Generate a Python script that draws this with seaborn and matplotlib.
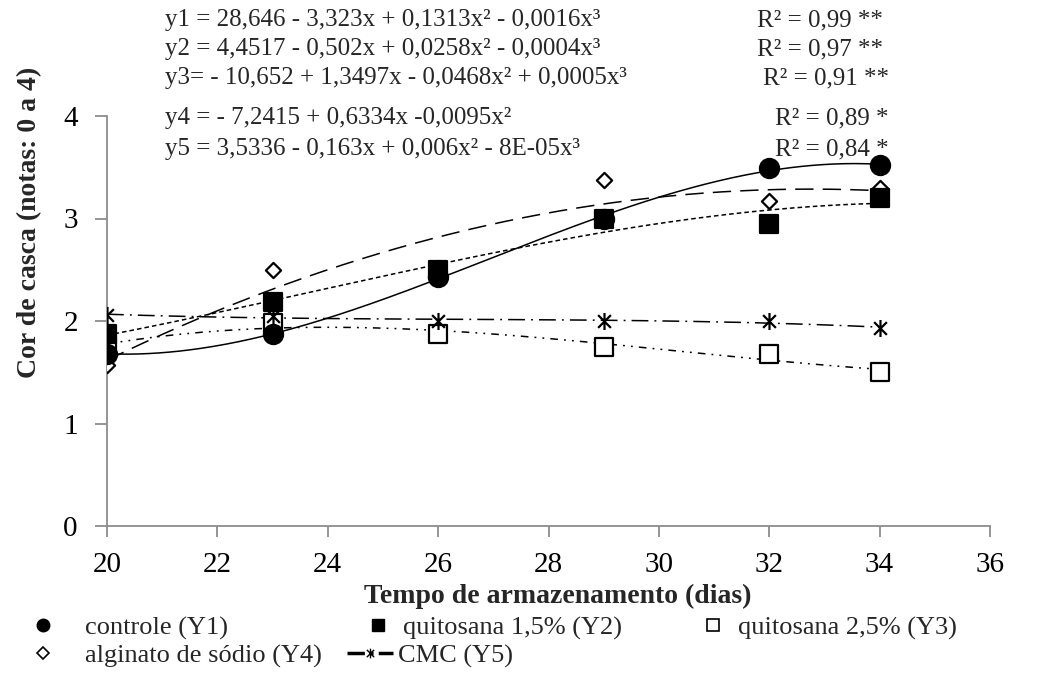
import numpy as np
import pandas as pd
import matplotlib
matplotlib.use("Agg")
import matplotlib.pyplot as plt
from matplotlib.lines import Line2D
from matplotlib.path import Path
import seaborn as sns

# Storage time (days) and shell colour scores for each coating
dias = [20, 23, 26, 29, 32, 34]
controle = [1.68, 1.87, 2.43, 3.00, 3.49, 3.52]
quitosana_15 = [1.87, 2.19, 2.50, 3.00, 2.95, 3.20]
quitosana_25 = [1.76, 1.98, 1.87, 1.75, 1.68, 1.50]
alginato = [1.57, 2.50, 2.52, 3.38, 3.17, 3.30]
cmc = [2.06, 2.05, 2.00, 2.00, 2.00, 1.93]

equacoes = [
    "y1 = 28,646 - 3,323x + 0,1313x² - 0,0016x³",
    "y2 = 4,4517 - 0,502x + 0,0258x² - 0,0004x³",
    "y3= - 10,652 + 1,3497x - 0,0468x² + 0,0005x³",
    "y4 = - 7,2415 + 0,6334x -0,0095x²",
    "y5 = 3,5336 - 0,163x + 0,006x² - 8E-05x³",
]
r2_textos = ["R² = 0,99 **", "R² = 0,97 **", "R² = 0,91 **", "R² = 0,89 *", "R² = 0,84 *"]
legendas = ["controle (Y1)", "quitosana 1,5% (Y2)", "quitosana 2,5% (Y3)",
            "alginato de sódio (Y4)", "CMC (Y5)"]

sns.set_theme(style="white")
plt.rcParams["font.family"] = ["Liberation Serif", "DejaVu Serif"]

W, H = 1040, 675
fig = plt.figure(figsize=(W / 100, H / 100), dpi=100)
ax = fig.add_axes([107 / W, 1 - 526 / H, (990 - 107) / W, (526 - 116) / H])

# six-spoke asterisk marker (vertical bar + two diagonals)
ast = Path([(0, -1), (0, 1), (-0.75, -0.75), (0.75, 0.75), (-0.75, 0.75), (0.75, -0.75)],
           [Path.MOVETO, Path.LINETO, Path.MOVETO, Path.LINETO, Path.MOVETO, Path.LINETO])

series = [
    # values, fit degree, line style, marker, face, size
    (alginato, 2, (0, (12, 6)), "D", "white", 60),
    (quitosana_25, 3, (0, (5, 4, 1.2, 4, 1.2, 4)), "s", "white", 150),
    (quitosana_15, 3, (0, (3, 2)), "s", "black", 160),
    (controle, 3, "-", "o", "black", 190),
    (cmc, 3, (0, (11, 4, 1.2, 4)), ast, "black", 150),
]

xs = np.linspace(20, 34, 300)
for vals, deg, ls, mk, face, size in series:
    coef = np.polyfit(dias, vals, deg)
    fit = pd.DataFrame({"x": xs, "y": np.polyval(coef, xs)})
    sns.lineplot(data=fit, x="x", y="y", ax=ax, color="black", linewidth=1.1,
                 linestyle=ls, zorder=2)

for vals, deg, ls, mk, face, size in series:
    pts = pd.DataFrame({"x": dias, "y": vals})
    sns.scatterplot(data=pts, x="x", y="y", ax=ax, marker=mk, s=size,
                    facecolor=face, edgecolor="black", linewidth=1.6, zorder=3)

ax.set_xlim(20, 36)
ax.set_ylim(0, 4)
ax.set_xticks(range(20, 37, 2))
ax.set_yticks(range(0, 5))
ax.set_xlabel("")
ax.set_ylabel("")
for side in ["top", "right"]:
    ax.spines[side].set_visible(False)
for side in ["left", "bottom"]:
    ax.spines[side].set_color("#8c8c8c")
    ax.spines[side].set_linewidth(1.3)
ax.tick_params(axis="both", colors="#8c8c8c", labelcolor="black", labelsize=21,
               width=1.3, direction="out")
ax.tick_params(axis="y", length=9, pad=12, left=True)
ax.tick_params(axis="x", length=8, pad=11, bottom=True)
ax.patch.set_alpha(0)

fig.text(558 / W, 1 - 596 / H, "Tempo de armazenamento (dias)", fontsize=20,
         fontweight="bold", ha="center", va="center")
fig.text(30 / W, 1 - 222 / H, "Cor de casca (notas: 0 a 4)", fontsize=20,
         fontweight="bold", ha="center", va="center", rotation=90)

# regression equations
eq_y = [20, 49, 78, 118, 149]
r2_x = [757, 757, 763, 775, 775]
for txt, r2, yy, rx in zip(equacoes, r2_textos, eq_y, r2_x):
    fig.text(165 / W, 1 - yy / H, txt, fontsize=18, ha="left", va="center")
    fig.text(rx / W, 1 - yy / H, r2, fontsize=18, ha="left", va="center")

# legend below the axes, one entry at a time
handles = [
    Line2D([], [], marker="o", color="black", linestyle="none", markersize=9),
    Line2D([], [], marker="s", color="black", linestyle="none", markersize=8),
    Line2D([], [], marker="s", markerfacecolor="white", markeredgecolor="black",
           linestyle="none", markersize=8, markeredgewidth=1.2),
    Line2D([], [], marker="D", markerfacecolor="white", markeredgecolor="black",
           linestyle="none", markersize=6, markeredgewidth=1.2),
    Line2D([], [], marker=ast, color="black", linestyle=(0, (5, 1.5, 1, 1.5)),
           linewidth=2.5, markersize=7, markeredgewidth=1.0),
]
# (handle left edge, row centre, handle length [em], gap to text [em])
pos = [(30, 628, 1.0, 1.1), (365, 628, 1.0, 0.45), (700, 628, 1.0, 0.45),
       (30, 656, 1.0, 1.1), (347, 656, 1.75, 0.2)]
for h, lab, (px, py, hl, tp) in zip(handles, legendas, pos):
    fig.legend(handles=[h], labels=[lab], loc="center left",
               bbox_to_anchor=(px / W, 1 - py / H), frameon=False, fontsize=19,
               handlelength=hl, handletextpad=tp, borderpad=0, borderaxespad=0)

fig.savefig("out.png", dpi=100)
